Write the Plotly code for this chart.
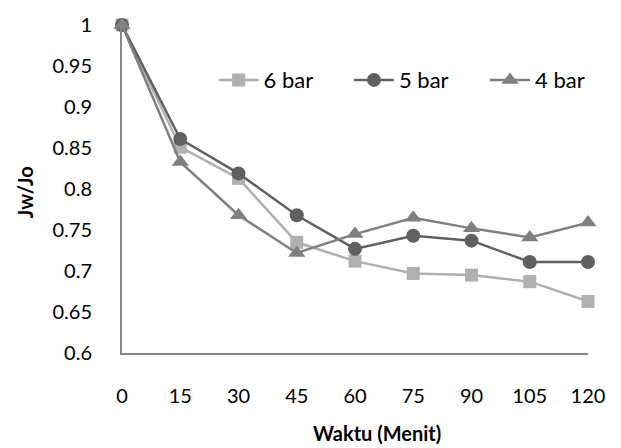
import plotly.graph_objects as go

waktu = [0, 15, 30, 45, 60, 75, 90, 105, 120]
bar6 = [1.0, 0.851, 0.813, 0.735, 0.712, 0.697, 0.695, 0.687, 0.663]
bar5 = [1.0, 0.861, 0.819, 0.768, 0.727, 0.743, 0.737, 0.711, 0.711]
bar4 = [1.0, 0.833, 0.768, 0.722, 0.745, 0.765, 0.752, 0.741, 0.759]
y_ticks = [0.6, 0.65, 0.7, 0.75, 0.8, 0.85, 0.9, 0.95, 1]
y_labels = ["0.6", "0.65", "0.7", "0.75", "0.8", "0.85", "0.9", "0.95", "1"]

FONT = "Lato"
fig = go.Figure()
fig.add_trace(go.Scatter(x=waktu, y=bar6, name="6 bar", mode="lines+markers",
                         cliponaxis=False, legend="legend",
                         line=dict(color="#B0B0B0", width=2.5),
                         marker=dict(symbol="square", size=13, color="#B0B0B0")))
fig.add_trace(go.Scatter(x=waktu, y=bar5, name="5 bar", mode="lines+markers",
                         cliponaxis=False, legend="legend2",
                         line=dict(color="#606060", width=2.5),
                         marker=dict(symbol="circle", size=14, color="#606060")))
fig.add_trace(go.Scatter(x=waktu, y=bar4, name="4 bar", mode="lines+markers",
                         cliponaxis=False, legend="legend3",
                         line=dict(color="#808080", width=2.5),
                         marker=dict(symbol="triangle-up", size=15, color="#808080")))

def leg(xp):
    return dict(orientation="h", x=xp, y=0.832, xanchor="left", yanchor="middle",
                bgcolor="rgba(0,0,0,0)", font=dict(size=22, family=FONT), itemwidth=40)

fig.update_layout(
    width=621, height=448,
    margin=dict(l=122, r=33, t=14, b=95),
    paper_bgcolor="white", plot_bgcolor="white",
    font=dict(family=FONT, size=20, color="#000000"),
    showlegend=True,
    legend=leg(0.1966),
    legend2=leg(0.487),
    legend3=leg(0.779),
    xaxis=dict(range=[0, 120], tickvals=waktu, ticktext=[str(v) for v in waktu],
               showgrid=False, zeroline=False, showline=True, linecolor="#868686",
               linewidth=2, ticks="", ticklabelstandoff=24),
    yaxis=dict(range=[0.6, 1.0], tickvals=y_ticks, ticktext=y_labels,
               showgrid=False, zeroline=False, showline=True, linecolor="#868686",
               linewidth=2, ticks="", ticklabelstandoff=24),
    annotations=[
        dict(text="<b>Waktu (Menit)</b>", xref="paper", yref="paper", x=0.5466, y=-0.243,
             xanchor="center", yanchor="middle", showarrow=False, font=dict(size=20)),
        dict(text="<b>Jw/Jo</b>", xref="paper", yref="paper", x=-0.208, y=0.49,
             xanchor="center", yanchor="middle", showarrow=False, textangle=-90,
             font=dict(size=20)),
    ],
)
fig.write_html("out.html")
